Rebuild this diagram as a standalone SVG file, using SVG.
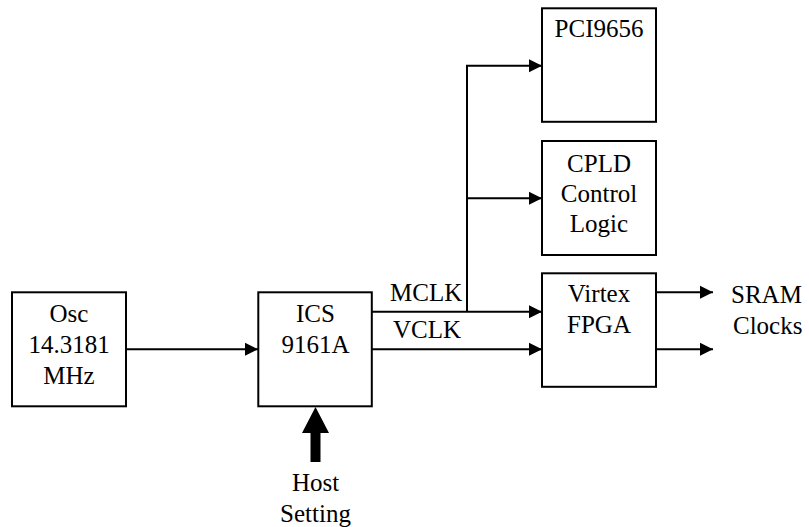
<svg xmlns="http://www.w3.org/2000/svg" width="809" height="527" viewBox="0 0 809 527">
<style>
.box{fill:#fff;stroke:#000;stroke-width:2}
.ln{fill:none;stroke:#000;stroke-width:2}
text{font-family:"Liberation Serif","Times New Roman",serif;font-size:25px;fill:#000;text-anchor:middle}
.l{text-anchor:start}
</style>
<defs>
<marker id="ah" markerUnits="userSpaceOnUse" markerWidth="14" markerHeight="14" refX="13" refY="6.5" orient="auto" viewBox="0 0 14 13">
<path d="M0,0 L13,6.5 L0,13 Z" fill="#000"/>
</marker>
</defs>
<rect width="809" height="527" fill="#fff"/>
<g id="connectors">
<line class="ln" x1="126" y1="349.3" x2="258" y2="349.3" marker-end="url(#ah)"/>
<line class="ln" x1="372" y1="311.7" x2="542" y2="311.7" marker-end="url(#ah)"/>
<line class="ln" x1="372" y1="349.3" x2="542" y2="349.3" marker-end="url(#ah)"/>
<polyline class="ln" points="467,311.7 467,65.7 542,65.7" marker-end="url(#ah)"/>
<line class="ln" x1="467" y1="198.3" x2="542" y2="198.3" marker-end="url(#ah)"/>
<line class="ln" x1="656" y1="292.3" x2="713" y2="292.3" marker-end="url(#ah)"/>
<line class="ln" x1="656" y1="349.3" x2="713" y2="349.3" marker-end="url(#ah)"/>
<polygon points="315.5,407 329,433 320.5,433 320.5,462 310.5,462 310.5,433 302,433" fill="#000"/>
<text class="l" x="390" y="300.5">MCLK</text>
<text class="l" x="393" y="338.3">VCLK</text>
<text x="315.5" y="491">Host</text>
<text x="315.5" y="522">Setting</text>
<text class="l" x="731" y="302.5">SRAM</text>
<text class="l" x="733" y="334">Clocks</text>
</g>
<g id="osc">
<rect class="box" x="12" y="292.3" width="114" height="114"/>
<text x="69" y="321.7">Osc</text>
<text x="69" y="353">14.3181</text>
<text x="69" y="383.5">MHz</text>
</g>
<g id="ics">
<rect class="box" x="258.3" y="292.3" width="113.5" height="114"/>
<text x="315.5" y="321.7">ICS</text>
<text x="315.5" y="353">9161A</text>
</g>
<g id="pci">
<rect class="box" x="542" y="8.3" width="114" height="113.5"/>
<text x="599" y="36.7">PCI9656</text>
</g>
<g id="cpld">
<rect class="box" x="542" y="141" width="114" height="114"/>
<text x="599" y="171.7">CPLD</text>
<text x="599" y="201.7">Control</text>
<text x="599" y="231.7">Logic</text>
</g>
<g id="virtex">
<rect class="box" x="542" y="273.3" width="114" height="113.5"/>
<text x="599" y="302.3">Virtex</text>
<text x="599" y="333.3">FPGA</text>
</g>
</svg>
